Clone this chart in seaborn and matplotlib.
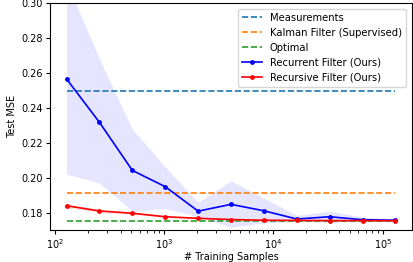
import matplotlib
matplotlib.use("Agg")
import matplotlib.pyplot as plt
import seaborn as sns
import numpy as np
import pandas as pd

samples = [128, 256, 512, 1024, 2048, 4096, 8192, 16384, 32768, 65536, 131072]
recurrent = [0.2565, 0.2317, 0.2042, 0.1949, 0.1809, 0.1848, 0.1811, 0.1764, 0.1777, 0.1760, 0.1757]
recurrent_hi = [0.312, 0.268, 0.2278, 0.2063, 0.1860, 0.1983, 0.1884, 0.1785, 0.1810, 0.1775, 0.1765]
recurrent_lo = [0.2021, 0.1970, 0.1810, 0.1825, 0.1777, 0.1717, 0.1741, 0.1750, 0.1745, 0.1748, 0.1750]
recursive = [0.1840, 0.1810, 0.1797, 0.1777, 0.1768, 0.1761, 0.1757, 0.1756, 0.1755, 0.1755, 0.1754]
recursive_hi = [0.1852, 0.1818, 0.1803, 0.1781, 0.1771, 0.1763, 0.1759, 0.1757, 0.1756, 0.1756, 0.1755]
recursive_lo = [0.1828, 0.1802, 0.1791, 0.1773, 0.1765, 0.1759, 0.1755, 0.1755, 0.1754, 0.1754, 0.1753]
measurements = 0.2497
kalman = 0.1911
optimal = 0.1754

plt.rcParams['font.family'] = ['DejaVu Sans']
plt.rcParams['font.size'] = 7
plt.rcParams['xtick.major.pad'] = 2
plt.rcParams['ytick.major.pad'] = 2
plt.rcParams['xtick.major.size'] = 3
plt.rcParams['ytick.major.size'] = 3

fig = plt.figure(figsize=(4.14, 2.62), dpi=100)
ax = fig.add_axes([0.121, 0.122, 0.874, 0.867])

xs = [samples[0], samples[-1]]
df_h = pd.DataFrame({"x": xs * 3,
                     "y": [measurements] * 2 + [kalman] * 2 + [optimal] * 2,
                     "name": ["Measurements"] * 2 + ["Kalman Filter (Supervised)"] * 2 + ["Optimal"] * 2})
for name, col in [("Measurements", "tab:blue"), ("Kalman Filter (Supervised)", "tab:orange"), ("Optimal", "tab:green")]:
    d = df_h[df_h.name == name]
    sns.lineplot(data=d, x="x", y="y", ax=ax, color=col, linestyle="--", label=name, linewidth=1.2)

ax.fill_between(samples, recurrent_lo, recurrent_hi, color="blue", alpha=0.1, linewidth=0)
ax.fill_between(samples, recursive_lo, recursive_hi, color="red", alpha=0.1, linewidth=0)

df_r = pd.DataFrame({"x": samples, "rec": recurrent, "rcs": recursive})
sns.lineplot(data=df_r, x="x", y="rec", ax=ax, color="blue", marker="o", markersize=3.5,
             markeredgewidth=0, label="Recurrent Filter (Ours)", linewidth=1.2)
sns.lineplot(data=df_r, x="x", y="rcs", ax=ax, color="red", marker="o", markersize=3.5,
             markeredgewidth=0, label="Recursive Filter (Ours)", linewidth=1.2)

ax.set_xscale("log")
ax.set_ylim(0.1701, 0.30)
ax.set_yticks([0.18, 0.20, 0.22, 0.24, 0.26, 0.28, 0.30])
ax.set_xlabel("# Training Samples", labelpad=1)
ax.set_ylabel("Test MSE", labelpad=3)
ax.legend(loc="upper right", fontsize=7.2, framealpha=0.8, borderaxespad=0.6)

fig.savefig("out.png", dpi=100)
